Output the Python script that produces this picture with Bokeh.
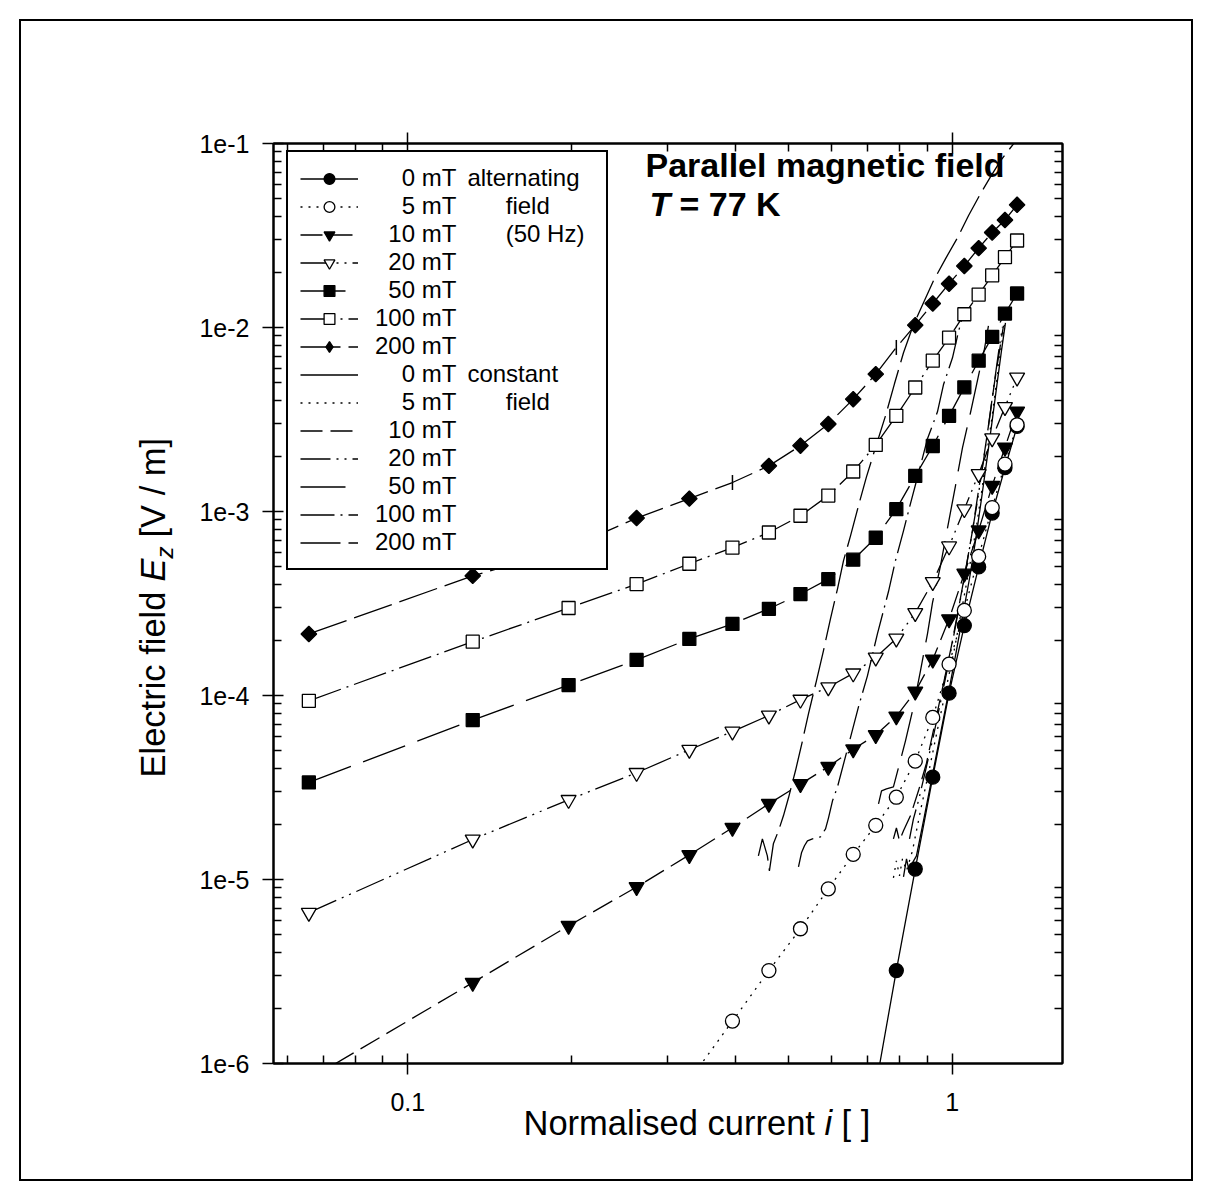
import numpy as np
from bokeh.plotting import figure
from bokeh.models import (Range1d, LogAxis, FixedTicker, CustomJSTickFormatter,
                          Legend, LegendItem, Label)
from bokeh.embed import file_html
from bokeh.resources import INLINE

# ---------------- data ----------------
# alternating field (50 Hz), with markers
x_0mT = [0.7238, 0.7896, 0.8554, 0.9212, 0.987, 1.0528, 1.1186, 1.1844, 1.2502, 1.316]
y_0mT = [7.5e-7, 3.2e-6, 1.14e-5, 3.6e-5, 1.03e-4, 2.4e-4, 5.0e-4, 9.8e-4, 1.73e-3, 2.9e-3]

x_5mT = [0.329, 0.3948, 0.4606, 0.5264, 0.5922, 0.658, 0.7238, 0.7896, 0.8554, 0.9212,
         0.987, 1.0528, 1.1186, 1.1844, 1.2502, 1.316]
y_5mT = [8.1e-7, 1.7e-6, 3.2e-6, 5.4e-6, 8.9e-6, 1.37e-5, 1.97e-5, 2.8e-5, 4.4e-5, 7.6e-5,
         1.48e-4, 2.9e-4, 5.7e-4, 1.05e-3, 1.81e-3, 2.96e-3]

x_10mT = [0.0658, 0.1316, 0.1974, 0.2632, 0.329, 0.3948, 0.4606, 0.5264, 0.5922, 0.658,
          0.7238, 0.7896, 0.8554, 0.9212, 0.987, 1.0528, 1.1186, 1.1844, 1.2502, 1.316]
y_10mT = [8.2e-7, 2.75e-6, 5.6e-6, 9.1e-6, 1.36e-5, 1.91e-5, 2.58e-5, 3.3e-5, 4.1e-5, 5.1e-5,
          6.1e-5, 7.7e-5, 1.05e-4, 1.57e-4, 2.6e-4, 4.6e-4, 7.9e-4, 1.38e-3, 2.23e-3, 3.5e-3]

x_20mT = [0.0658, 0.1316, 0.1974, 0.2632, 0.329, 0.3948, 0.4606, 0.5264, 0.5922, 0.658,
          0.7238, 0.7896, 0.8554, 0.9212, 0.987, 1.0528, 1.1186, 1.1844, 1.2502, 1.316]
y_20mT = [6.6e-6, 1.65e-5, 2.71e-5, 3.8e-5, 5.07e-5, 6.37e-5, 7.79e-5, 9.5e-5, 1.11e-4, 1.32e-4,
          1.61e-4, 2.04e-4, 2.81e-4, 4.14e-4, 6.47e-4, 1.03e-3, 1.6e-3, 2.5e-3, 3.7e-3, 5.35e-3]

x_50mT = [0.0658, 0.1316, 0.1974, 0.2632, 0.329, 0.3948, 0.4606, 0.5264, 0.5922, 0.658,
          0.7238, 0.7896, 0.8554, 0.9212, 0.987, 1.0528, 1.1186, 1.1844, 1.2502, 1.316]
y_50mT = [3.37e-5, 7.35e-5, 1.14e-4, 1.56e-4, 2.03e-4, 2.45e-4, 2.96e-4, 3.56e-4, 4.29e-4, 5.47e-4,
          7.2e-4, 1.03e-3, 1.56e-3, 2.27e-3, 3.31e-3, 4.73e-3, 6.6e-3, 8.9e-3, 1.19e-2, 1.53e-2]

x_100mT = [0.0658, 0.1316, 0.1974, 0.2632, 0.329, 0.3948, 0.4606, 0.5264, 0.5922, 0.658,
           0.7238, 0.7896, 0.8554, 0.9212, 0.987, 1.0528, 1.1186, 1.1844, 1.2502, 1.316]
y_100mT = [9.36e-5, 1.96e-4, 2.99e-4, 4.03e-4, 5.2e-4, 6.37e-4, 7.69e-4, 9.48e-4, 1.22e-3, 1.65e-3,
           2.3e-3, 3.31e-3, 4.72e-3, 6.6e-3, 8.8e-3, 1.18e-2, 1.51e-2, 1.92e-2, 2.41e-2, 2.97e-2]

x_200mT = [0.0658, 0.1316, 0.1974, 0.2632, 0.329, 0.3948, 0.4606, 0.5264, 0.5922, 0.658,
           0.7238, 0.7896, 0.8554, 0.9212, 0.987, 1.0528, 1.1186, 1.1844, 1.2502, 1.316]
y_200mT = [2.16e-4, 4.47e-4, 6.34e-4, 9.21e-4, 1.175e-3, 1.437e-3, 1.77e-3, 2.28e-3, 2.99e-3, 4.08e-3,
           5.58e-3, 7.79e-3, 1.03e-2, 1.35e-2, 1.73e-2, 2.16e-2, 2.7e-2, 3.28e-2, 3.84e-2, 4.64e-2]
# points of the 200 mT series drawn as a bar instead of a diamond
x_200mT_bar = [0.3948, 0.7896]

# constant field, lines only
xc_0mT = [0.8139, 0.8244, 0.8349, 0.8454, 0.8598, 0.8894, 0.9201, 0.9517, 0.9845, 1.0141,
          1.0445, 1.0760, 1.1036, 1.1320, 1.1609, 1.1857, 1.2111, 1.2318, 1.2529]
yc_0mT = [1.034e-5, 1.296e-5, 1.087e-5, 1.232e-5, 1.345e-5, 2.219e-5, 3.707e-5, 6.19e-5, 1.034e-4, 1.643e-4,
          2.677e-4, 4.31e-4, 6.93e-4, 1.172e-3, 2.008e-3, 3.19e-3, 5.13e-3, 7.47e-3, 1.06e-2]

xc_5mT = [0.7800, 0.7899, 0.8002, 0.8104, 0.8244, 0.8454, 0.8745, 0.9082, 0.9436, 0.9761,
          1.0098, 1.0401, 1.0713, 1.1036, 1.1320, 1.1562, 1.1809, 1.2061, 1.2266, 1.2476]
yc_5mT = [1.021e-5, 1.263e-5, 1.047e-5, 1.296e-5, 1.115e-5, 1.432e-5, 2.362e-5, 3.996e-5, 6.93e-5, 1.115e-4,
          1.794e-4, 2.886e-4, 4.643e-4, 7.66e-4, 1.263e-3, 2.008e-3, 3.111e-3, 5.005e-3, 7.286e-3, 1.034e-2]

xc_10mT = [0.7800, 0.7899, 0.8002, 0.8139, 0.8381, 0.8671, 0.8970, 0.9318, 0.9638, 0.9970,
           1.0270, 1.0578, 1.0896, 1.1176, 1.1464, 1.1709, 1.1959, 1.2215, 1.2423]
yc_10mT = [1.664e-5, 1.905e-5, 1.623e-5, 1.839e-5, 2.219e-5, 3.034e-5, 4.285e-5, 7.286e-5, 1.158e-4, 1.862e-4,
           2.96e-4, 4.761e-4, 7.853e-4, 1.296e-3, 2.084e-3, 3.19e-3, 5.005e-3, 7.469e-3, 1.021e-2]

xc_20mT = [0.8349, 0.8489, 0.8671, 0.8933, 0.9239, 0.9557, 0.9886, 1.0184, 1.0490, 1.0804,
           1.1129, 1.1416, 1.1658, 1.1910, 1.2163, 1.2371]
yc_20mT = [1.664e-5, 2.137e-5, 2.677e-5, 3.898e-5, 6.04e-5, 9.716e-5, 1.583e-4, 2.547e-4, 4.097e-4, 6.76e-4,
           1.143e-3, 1.886e-3, 2.922e-3, 4.643e-3, 7.286e-3, 1.009e-2]

xc_50mT = [0.7323, 0.7417, 0.7574, 0.7800, 0.7967, 0.8208, 0.8489, 0.8745, 0.9008, 0.9201,
           0.9517, 0.9845, 1.0141, 1.0445, 1.0804, 1.1176, 1.1464, 1.1658]
yc_50mT = [2.578e-5, 3.034e-5, 3.111e-5, 3.19e-5, 4.046e-5, 5.672e-5, 8.68e-5, 1.362e-4, 2.164e-4, 3.19e-4,
           5.07e-4, 8.68e-4, 1.379e-3, 2.219e-3, 3.44e-3, 5.463e-3, 7.66e-3, 1.021e-2]

xc_100mT = [0.5220, 0.5287, 0.5354, 0.5422, 0.5538, 0.5730, 0.5853, 0.5927, 0.6028, 0.6157,
            0.6423, 0.6728, 0.6988, 0.7289, 0.7637, 0.7866, 0.8139, 0.8381, 0.8745, 0.9008,
            0.9397, 0.9638, 1.0013, 1.0270, 1.0534]
yc_100mT = [1.172e-5, 1.397e-5, 1.525e-5, 1.623e-5, 1.664e-5, 1.706e-5, 1.886e-5, 2.164e-5, 2.677e-5, 3.19e-5,
            5.13e-5, 8.68e-5, 1.279e-4, 2.164e-4, 3.662e-4, 5.397e-4, 7.853e-4, 1.101e-3, 1.772e-3, 2.484e-3,
            3.48e-3, 4.883e-3, 6.845e-3, 9.475e-3, 1.263e-2]

xc_200mT = [0.4406, 0.4481, 0.4576, 0.4616, 0.4694, 0.4796, 0.4898, 0.5004, 0.5154, 0.5309,
            0.5445, 0.5632, 0.5801, 0.5976, 0.6157, 0.6314, 0.6505, 0.6728, 0.6959, 0.7228,
            0.7543, 0.7834, 0.8139, 0.8489, 0.8857, 0.9239, 0.9721, 1.0226, 1.0713, 1.1271,
            1.1758, 1.2266, 1.2963, 1.3354]
yc_200mT = [1.345e-5, 1.664e-5, 1.345e-5, 1.115e-5, 1.563e-5, 1.839e-5, 2.219e-5, 2.78e-5, 3.898e-5, 5.672e-5,
            7.954e-5, 1.202e-4, 1.749e-4, 2.611e-4, 3.801e-4, 5.39e-4, 7.37e-4, 1.074e-3, 1.543e-3, 2.219e-3,
            3.311e-3, 4.943e-3, 7.286e-3, 1.034e-2, 1.362e-2, 1.794e-2, 2.362e-2, 3.073e-2, 4.046e-2, 5.328e-2,
            6.592e-2, 8.054e-2, 9.963e-2, 1.143e-1]

# legend texts (alternating field block, then constant field block)
legend_alt = ["0 mT alternating", "5 mT field", "10 mT (50 Hz)", "20 mT", "50 mT", "100 mT", "200 mT"]
legend_const = ["0 mT constant", "5 mT field", "10 mT", "20 mT", "50 mT", "100 mT", "200 mT"]
x_major = [0.1, 1.0]
y_major = [1e-6, 1e-5, 1e-4, 1e-3, 1e-2, 1e-1]
XMIN, XMAX = 0.05666, 1.5947
YMIN, YMAX = 1e-6, 1e-1

# ---------------- layout ----------------
FL, FT, FW, FH = 273, 143, 789, 920
FONT = "Liberation Sans"
LX0, LX1 = np.log10(XMIN), np.log10(XMAX)
LY0, LY1 = np.log10(YMIN), np.log10(YMAX)


def px_x(px):
    return 10 ** (LX0 + (px - FL) / FW * (LX1 - LX0))


def px_y(py):
    return 10 ** (LY1 - (py - FT) / FH * (LY1 - LY0))


border_css = {
    "background-color": "white",
    "background-image": ", ".join(["linear-gradient(#000, #000)"] * 4),
    "background-size": "1174px 2px, 1174px 2px, 2px 1162px, 2px 1162px",
    "background-position": "19px 19px, 19px 1179px, 19px 19px, 1191px 19px",
    "background-repeat": "no-repeat",
}

p = figure(width=1212, height=1200, x_axis_type="log", y_axis_type="log",
           x_range=Range1d(XMIN, XMAX), y_range=Range1d(YMIN, YMAX),
           output_backend="svg", toolbar_location=None,
           min_border_left=FL, min_border_right=1212 - FL - FW,
           min_border_top=FT, min_border_bottom=1200 - FT - FH,
           styles=border_css)
p.xgrid.visible = False
p.ygrid.visible = False
p.outline_line_color = "black"
p.outline_line_width = 2
p.background_fill_color = "white"
p.border_fill_color = None

x_minor = [m * 10.0 ** e for e in (-2, -1) for m in range(2, 10) if XMIN <= m * 10.0 ** e <= XMAX]
y_minor = [m * 10.0 ** e for e in (-6, -5, -4, -3, -2) for m in range(2, 10)]


def style_axis(ax, is_x, mj_in, mj_out, mn_in, fmt=None, standoff=14):
    ax.ticker = FixedTicker(ticks=x_major if is_x else y_major,
                            minor_ticks=x_minor if is_x else y_minor)
    ax.axis_line_width = 2
    ax.axis_line_color = "black"
    ax.major_tick_line_width = 1.5
    ax.minor_tick_line_width = 1.5
    ax.major_tick_in = mj_in
    ax.major_tick_out = mj_out
    ax.minor_tick_in = mn_in
    ax.minor_tick_out = 0
    if mj_in == 0 and mj_out == 0:
        ax.major_tick_line_color = None
    if fmt is not None:
        ax.formatter = fmt
        ax.major_label_text_font = FONT
        ax.major_label_text_font_size = "25px"
        ax.major_label_text_color = "black"
        ax.major_label_standoff = standoff
    else:
        ax.formatter = CustomJSTickFormatter(code="return ''")
        ax.major_label_text_font_size = "0px"
        ax.major_label_standoff = 0


top_ax = LogAxis()
right_ax = LogAxis()
xfmt = CustomJSTickFormatter(code="return (Math.abs(tick - 1) < 1e-9) ? '1' : tick.toString();")
yfmt = CustomJSTickFormatter(code="return '1e' + Math.round(Math.log10(tick));")
style_axis(p.xaxis[0], True, 10, 11, 8, xfmt, standoff=18)
style_axis(p.yaxis[0], False, 10, 11, 8, yfmt, standoff=13)
style_axis(top_ax, True, 10, 11, 8)
style_axis(right_ax, False, 0, 0, 8)
p.add_layout(top_ax, "above")
p.add_layout(right_ax, "right")

# ---------------- series ----------------
LW = 1.3
dashes = ["solid", "2 6", "22 8", "30 6 2 6 2 6", "45 13", "34 6 2 6", "40 8"]

const_x = [xc_0mT, xc_5mT, xc_10mT, xc_20mT, xc_50mT, xc_100mT, xc_200mT]
const_y = [yc_0mT, yc_5mT, yc_10mT, yc_20mT, yc_50mT, yc_100mT, yc_200mT]
const_renderers = [p.line(xs, ys, line_color="black", line_width=LW, line_dash=d)
                   for xs, ys, d in zip(const_x, const_y, dashes)]

alt_x = [x_0mT, x_5mT, x_10mT, x_20mT, x_50mT, x_100mT, x_200mT]
alt_y = [y_0mT, y_5mT, y_10mT, y_20mT, y_50mT, y_100mT, y_200mT]
alt_lines = [p.line(xs, ys, line_color="black", line_width=LW, line_dash=d)
             for xs, ys, d in zip(alt_x, alt_y, dashes)]

marker_specs = [
    dict(marker="circle", size=14, fill_color="black"),
    dict(marker="circle", size=14, fill_color="white"),
    dict(marker="inverted_triangle", size=15, fill_color="black"),
    dict(marker="inverted_triangle", size=15, fill_color="white"),
    dict(marker="square", size=13, fill_color="black"),
    dict(marker="square", size=13, fill_color="white"),
    dict(marker="square", size=11, fill_color="black", angle=np.pi / 4),
]
draw_order = [0, 2, 1, 3, 4, 5, 6]
alt_markers = [None] * 7
for i in draw_order:
    xs, ys = alt_x[i], alt_y[i]
    if i == 6:
        keep = [k for k, xv in enumerate(xs) if xv not in x_200mT_bar]
        xs = [xs[k] for k in keep]
        ys = [ys[k] for k in keep]
    alt_markers[i] = p.scatter(xs, ys, line_color="black", line_width=1.3, **marker_specs[i])

bar_idx = [k for k, xv in enumerate(x_200mT) if xv in x_200mT_bar]
p.scatter([x_200mT[k] for k in bar_idx], [y_200mT[k] for k in bar_idx], marker="dash",
          angle=np.pi / 2, size=15, line_color="black", line_width=1.5)

# legend-only diamond symbol for the 200 mT entry (no visible points)
diamond_key = p.scatter([np.nan], [np.nan], marker="diamond", size=16,
                        fill_color="black", line_color="black", line_width=1.3)
legend_markers = list(alt_markers)
legend_markers[6] = diamond_key

# ---------------- legend ----------------
FIG = "\u2007"   # figure space (digit width)
GAP2 = "\u2003\u2007\u2002"  # wide gap before the second text column


def legend_text(s):
    parts = s.split(" ", 2)
    num, unit = parts[0], parts[1]
    head = FIG * (3 - len(num)) + num + " " + unit
    if len(parts) == 3:
        extra = parts[2]
        if extra in ("alternating", "constant"):
            return head + " \u2009" + extra
        return head + GAP2 + extra
    return head


items = [LegendItem(label=legend_text(t), renderers=[alt_lines[i], legend_markers[i]])
         for i, t in enumerate(legend_alt)]
items += [LegendItem(label=legend_text(t), renderers=[const_renderers[i]])
          for i, t in enumerate(legend_const)]

legend = Legend(items=items, location=(13, 493))
legend.margin = 0
legend.padding = 12
legend.spacing = 0
legend.glyph_width = 58
legend.glyph_height = 27
legend.label_height = 27
legend.label_width = 219
legend.label_standoff = 17
legend.border_line_color = "black"
legend.border_line_width = 2
legend.border_line_alpha = 1.0
legend.background_fill_color = "white"
legend.background_fill_alpha = 1.0
legend.label_text_font = FONT
legend.label_text_font_size = "24px"
legend.label_text_color = "black"
p.add_layout(legend, "center")


# ---------------- texts ----------------
def lab(txt, xp, yp, size_px, style="normal", angle=0.0, side="center"):
    dy = 0.38 * size_px  # baseline correction
    if angle == 0.0:
        yp = yp - dy
    else:
        xp = xp - dy
    lbl = Label(x=px_x(xp), y=px_y(yp), text=txt, text_font=FONT,
                text_font_size=f"{size_px}px", text_font_style=style, angle=angle,
                text_align="left", text_baseline="alphabetic", text_color="black",
                level="overlay")
    p.add_layout(lbl, side)


# title inside the plot area
lab("Parallel magnetic field", 645, 177, 34, "bold")
lab("T", 649, 216, 34, "bold italic")
lab("= 77 K", 679, 216, 34, "bold")

# x axis label (placed in the side panels so that it is not clipped to the frame)
lab("Normalised current", 523, 1136, 34.5, side="below")
lab("i", 824, 1136, 34.5, "italic", side="above")
lab("[ ]", 841, 1136, 34.5, side="above")

# y axis label (rotated)
A = np.pi / 2
lab("Electric field", 166, 777, 34.5, angle=A, side="left")
lab("E", 166, 581, 34.5, "italic", angle=A, side="left")
lab("z", 173, 558, 24, "italic", angle=A, side="left")
lab("[V / m]", 166, 537, 34.5, angle=A, side="left")

open("out.html", "w").write(file_html(p, INLINE))
